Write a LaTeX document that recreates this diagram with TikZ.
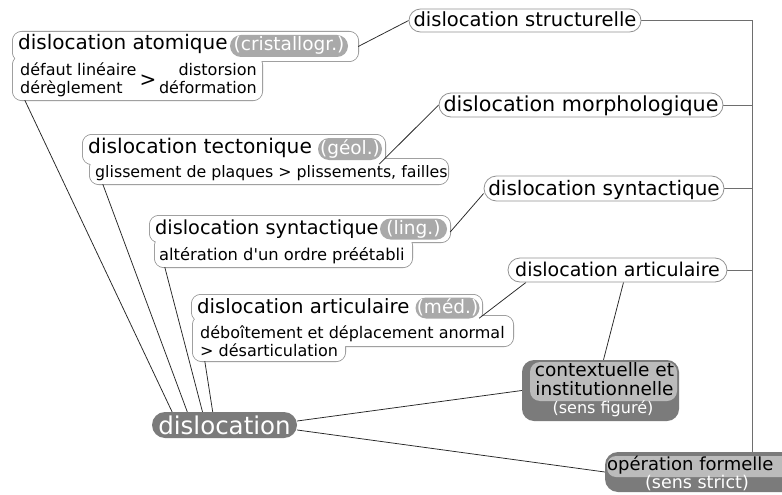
\documentclass[tikz,border=0pt]{standalone}
\usepackage{fontspec}
\setmainfont{DejaVu Sans}
\newfontfamily\plainf{DejaVu Sans}
\usetikzlibrary{backgrounds,shapes.misc}
\definecolor{boxc}{HTML}{939393}
\definecolor{tagc}{HTML}{A9A9A9}
\definecolor{darkc}{HTML}{7B7B7B}
\definecolor{lightc}{HTML}{BBBBBB}
\definecolor{linec}{HTML}{262626}
\definecolor{busc}{HTML}{6E6E6E}
\newcommand{\myfs}[1]{\fontsize{#1}{#1}\selectfont}
\begin{document}
\begin{tikzpicture}[x=1pt,y=-1pt,
  bx/.style={rectangle, inner sep=0pt, draw=none},
  outl/.style={draw=boxc, line width=1.6pt, rounded corners=9pt},
  fil/.style={fill=white, rounded corners=9pt},
  ttl/.style={anchor=base west, inner sep=0pt, text=black},
  subt/.style={anchor=base west, inner sep=0pt, text=black, font=\myfs{16}},
  tag/.style={rounded rectangle, fill=tagc, text=white, inner sep=0pt, font=\myfs{18.5}, text height=10pt, text depth=0pt},
  pill/.style={rounded rectangle, draw=boxc, line width=0.8pt, fill=white, inner sep=0pt, text height=13pt, text depth=0pt},
  darkpill/.style={rounded rectangle, fill=darkc, text=white, inner sep=0pt},
  darkbox/.style={rectangle, fill=darkc, inner sep=0pt},
  lightbox/.style={rectangle, fill=lightc, inner sep=0pt},
  conn/.style={draw=linec, line width=0.75pt},
  bus/.style={draw=busc, line width=1pt},
]
\useasboundingbox (0,0) rectangle (782,495);
\clip (0,0) rectangle (782,495);

% frames of the merged boxes
\node[bx, minimum width=345pt, minimum height=29pt] (A) at (185.5,46.5) {};
\node[bx, minimum width=249pt, minimum height=44pt] (As) at (137.5,78) {};
\node[bx, minimum width=302pt, minimum height=29pt] (T) at (234,149.5) {};
\node[bx, minimum width=358pt, minimum height=25pt] (Ts) at (269,171.5) {};
\node[bx, minimum width=300pt, minimum height=26pt] (S) at (300,229) {};
\node[bx, minimum width=257pt, minimum height=30pt] (Ss) at (283.5,252) {};
\node[bx, minimum width=290pt, minimum height=26pt] (M) at (337,308) {};
\node[bx, minimum width=320pt, minimum height=30pt] (Ms) at (353,331) {};
\node[bx, minimum width=152pt, minimum height=31pt] (Mt) at (269,345.5) {};

% texts of the left boxes
\node[ttl, font=\myfs{20}] (At) at (18,50) {dislocation atomique};
\node[tag, minimum width=118pt, minimum height=22pt] (Ag) at (289,46) {(cristallogr.)};
\node[subt] (A1) at (20,76) {défaut linéaire};
\node[subt] (A2) at (20,94) {dérèglement};
\node[subt, anchor=base east] (A3) at (257,76) {distorsion};
\node[subt, anchor=base east] (A4) at (257,94) {déformation};
\node[inner sep=0pt, font=\myfs{20}] (A5) at (148,81) {>};

\node[ttl, font=\myfs{20.2}] (Tt) at (88,153.5) {dislocation tectonique};
\node[tag, minimum width=64pt, minimum height=22pt] (Tg) at (350,149) {(géol.)};
\node[subt, font=\myfs{15.8}] (T1) at (95,177) {glissement de plaques > plissements, failles};

\node[ttl, font=\myfs{19.3}] (St) at (155,234.5) {dislocation syntactique};
\node[tag, minimum width=67pt, minimum height=21pt] (Sg) at (413.5,229) {(ling.)};
\node[subt, font=\myfs{16.3}] (S1) at (159,260) {altération d{\plainf '}un ordre préétabli};

\node[ttl, font=\myfs{19.7}] (Mtt) at (197,313) {dislocation articulaire};
\node[tag, minimum width=61pt, minimum height=21pt] (Mg) at (447.5,308) {(méd.)};
\node[subt] (M1) at (200,338) {déboîtement et déplacement anormal};
\node[subt] (M2) at (200,356) {> désarticulation};

% right column
\node[pill, minimum width=232pt, minimum height=23pt, font=\myfs{19.5}] (R1) at (525,20.5) {dislocation structurelle};
\node[pill, minimum width=284pt, minimum height=24pt, font=\myfs{20.7}] (R2) at (581,105) {dislocation morphologique};
\node[pill, minimum width=240pt, minimum height=25pt, font=\myfs{20}] (R3) at (604,188.5) {dislocation syntactique};
\node[pill, minimum width=219pt, minimum height=24pt, font=\myfs{19}] (R4) at (617.5,270) {dislocation articulaire};

% centre
\node[darkpill, minimum width=145pt, minimum height=26pt, font=\myfs{24.5}, text height=19pt, text depth=0pt] (D) at (224.5,425) {dislocation};

\node[darkbox, rounded corners=12pt, minimum width=157pt, minimum height=61pt] (C) at (600.5,390.5) {};
\node[lightbox, rounded corners=10pt, minimum width=147pt, minimum height=39pt] (Ci) at (603.5,381.5) {};
\node[inner sep=0pt, anchor=base, font=\myfs{18.5}] (C1) at (604.5,376.5) {contextuelle et};
\node[inner sep=0pt, anchor=base, font=\myfs{18.5}] (C2) at (604.5,395) {institutionnelle};
\node[inner sep=0pt, anchor=base, font=\myfs{16}, text=white] (C3) at (603,413.5) {(sens figuré)};

\node[darkbox, rounded corners=13pt, minimum width=200pt, minimum height=40pt] (O) at (705,472) {};
\node[lightbox, rounded corners=9pt, minimum width=188pt, minimum height=21pt] (Oi) at (701,466.5) {};
\node[inner sep=0pt, anchor=base west, font=\myfs{18}] (O1) at (607,470) {opération formelle};
\node[inner sep=0pt, anchor=base, font=\myfs{17.5}, text=white] (O2) at (697,488) {(sens strict)};

\coordinate (bt) at (752,20.5);

\begin{scope}[on background layer]
  \fill[white] (0,0) rectangle (782,495);
  \foreach \b in {A,As,T,Ts,S,Ss,M,Ms,Mt}
    \draw[outl] (\b.south west) rectangle (\b.north east);
  \foreach \b in {A,As,T,Ts,S,Ss,M,Ms,Mt}
    \fill[fil] (\b.south west) rectangle (\b.north east);
  % links
  \draw[conn] (A.east) -- (R1.west);
  \draw[conn] ([xshift=-6pt]T.south east) -- (R2.west);
  \draw[conn] ([yshift=-3pt]S.east) -- ([yshift=-5pt]R3.west);
  \draw[conn] ([xshift=-3pt,yshift=3pt]M.south east) -- ([xshift=6pt]R4.south west);
  \draw[conn] ([xshift=3pt]C.north) -- ([xshift=6pt]R4.south);
  \draw[conn] ([xshift=8pt,yshift=-2pt]D.north west) -- ([xshift=12pt]As.south west);
  \draw[conn] ([xshift=23pt,yshift=-2pt]D.north west) -- ([xshift=13pt]Ts.south west);
  \draw[conn] ([xshift=38pt,yshift=-2pt]D.north west) -- ([xshift=10pt]Ss.south west);
  \draw[conn] ([xshift=48pt,yshift=-2pt]D.north west) -- ([xshift=12pt]Mt.south west);
  \draw[conn] ([yshift=4pt]D.east) -- (C.west);
  \draw[conn] ([yshift=-5pt]D.east) -- (O.west);
  % bus
  \draw[bus] (R1.east) -- (bt) -- (bt |- O.north);
  \draw[bus] (R2.east) -- (R2.east -| bt);
  \draw[bus] (R3.east) -- (R3.east -| bt);
  \draw[bus] (R4.east) -- (R4.east -| bt);
\end{scope}
\end{tikzpicture}
\end{document}
